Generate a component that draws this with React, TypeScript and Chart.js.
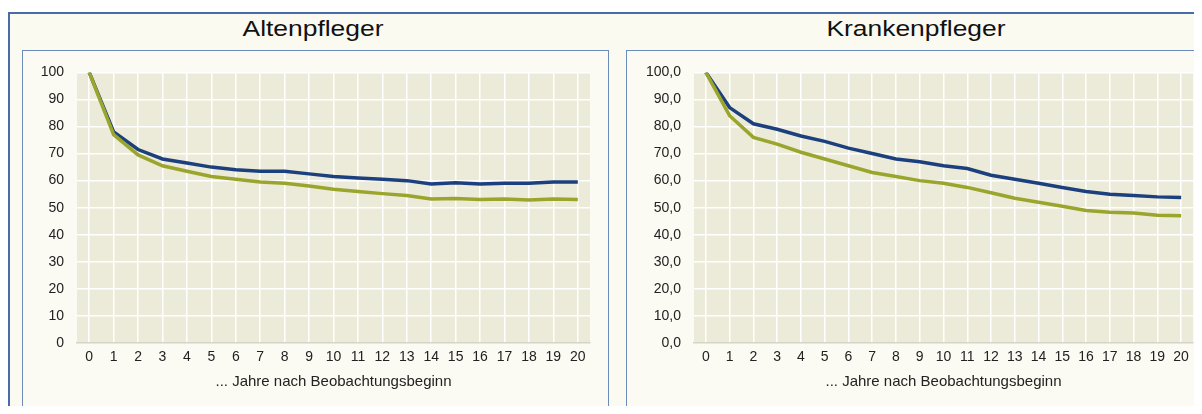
import React, { useEffect, useRef } from "react";
import { Chart, registerables } from "chart.js";

Chart.register(...registerables);

const years = ["0","1","2","3","4","5","6","7","8","9","10","11","12","13","14","15","16","17","18","19","20"];

const altenBlue = [100, 78, 71.5, 68, 66.5, 65, 64, 63.5, 63.5, 62.5, 61.5, 61, 60.5, 60, 58.8, 59.2, 58.8, 59, 59, 59.5, 59.5];
const altenGreen = [100, 77, 69.5, 65.5, 63.5, 61.5, 60.5, 59.5, 59, 58, 56.8, 56, 55.2, 54.5, 53.2, 53.4, 53, 53.2, 52.8, 53.2, 53];

const krankBlue = [100, 87, 81, 79, 76.5, 74.5, 72, 70, 68, 67, 65.5, 64.5, 62, 60.5, 59, 57.5, 56, 55, 54.5, 54, 53.8];
const krankGreen = [100, 84, 76, 73.5, 70.5, 68, 65.5, 63, 61.5, 60, 59, 57.5, 55.5, 53.5, 52, 50.5, 49, 48.3, 48, 47.2, 47];

const titles = ["Altenpfleger", "Krankenpfleger"];
const xTitle = "... Jahre nach Beobachtungsbeginn";

const BLUE = "#1c3f7e";
const GREEN = "#9aa52c";
const FONT = "'Liberation Sans', Arial, sans-serif";

const plotBg = {
  id: "plotBg",
  beforeDraw(chart: any) {
    const { ctx, chartArea } = chart;
    ctx.save();
    ctx.fillStyle = "#ecead9";
    ctx.fillRect(chartArea.left, chartArea.top, chartArea.right - chartArea.left, chartArea.bottom - chartArea.top);
    ctx.restore();
  },
};

type PanelProps = {
  blue: number[];
  green: number[];
  decimals: boolean;
  yWidth: number;
  padRight: number;
  width: number;
};

function Panel({ blue, green, decimals, yWidth, padRight, width }: PanelProps) {
  const ref = useRef<HTMLCanvasElement>(null);
  useEffect(() => {
    if (!ref.current) return;
    const chart = new Chart(ref.current, {
      type: "line",
      data: {
        labels: years,
        datasets: [
          { data: green, borderColor: GREEN, borderWidth: 3.5, pointRadius: 0, tension: 0, fill: false },
          { data: blue, borderColor: BLUE, borderWidth: 3.5, pointRadius: 0, tension: 0, fill: false },
        ],
      },
      options: {
        animation: false,
        responsive: false,
        maintainAspectRatio: false,
        events: [],
        layout: { padding: { top: 17, right: padRight, bottom: 0, left: 0 } },
        plugins: { legend: { display: false }, tooltip: { enabled: false }, title: { display: false } },
        scales: {
          x: {
            type: "category",
            offset: true,
            grid: { color: "#ffffff", lineWidth: 1.5, offset: false, drawTicks: false },
            border: { display: true, color: "#d6d4c6", width: 1.5 },
            ticks: { color: "#222", font: { family: FONT, size: 14 }, padding: 6, maxRotation: 0, autoSkip: false },
            title: { display: true, text: xTitle, color: "#222", font: { family: FONT, size: 15 }, padding: { top: 4, bottom: 23 } },
            afterFit(scale: any) { scale.height = 71; },
          },
          y: {
            min: 0,
            max: 100,
            grid: { color: "#ffffff", lineWidth: 1.5, drawTicks: false },
            border: { display: false },
            ticks: {
              stepSize: 10,
              color: "#222",
              font: { family: FONT, size: 14 },
              padding: 13,
              callback: (v: any) => (decimals ? Number(v).toFixed(1).replace(".", ",") : String(v)),
            },
            afterFit(scale: any) { scale.width = yWidth; },
          },
        },
      },
      plugins: [plotBg],
    });
    return () => chart.destroy();
  }, []);
  return <canvas ref={ref} width={width} height={363} style={{ display: "block", width, height: 363 }} />;
}

const titleStyle: React.CSSProperties = {
  position: "absolute",
  top: 18,
  textAlign: "center",
  fontSize: 22,
  lineHeight: "22px",
  color: "#111",
  transform: "scaleX(1.2)",
};

export default function App() {
  return (
    <div style={{ position: "relative", margin: -8, width: 1202, height: 414, overflow: "hidden", background: "#ffffff", fontFamily: FONT }}>
      <div style={{ position: "absolute", left: 8, top: 12, width: 1220, height: 440, border: "2px solid #4a6ca6", background: "#fafaf1", boxSizing: "border-box" }} />
      <div style={{ ...titleStyle, left: 20, width: 586 }}>{titles[0]}</div>
      <div style={{ ...titleStyle, left: 627, width: 578 }}>{titles[1]}</div>
      <div style={{ position: "absolute", left: 22, top: 50, width: 587, height: 400, border: "1.5px solid #6d8bb8", boxSizing: "border-box", background: "#fbfbf3" }} />
      <div style={{ position: "absolute", left: 626, top: 50, width: 600, height: 400, border: "1.5px solid #6d8bb8", boxSizing: "border-box", background: "#fbfbf3" }} />
      <div style={{ position: "absolute", left: 22, top: 51 }}>
        <Panel blue={altenBlue} green={altenGreen} decimals={false} yWidth={55} padRight={18} width={586} />
      </div>
      <div style={{ position: "absolute", left: 627, top: 51 }}>
        <Panel blue={krankBlue} green={krankGreen} decimals={true} yWidth={67} padRight={9} width={575} />
      </div>
    </div>
  );
}
